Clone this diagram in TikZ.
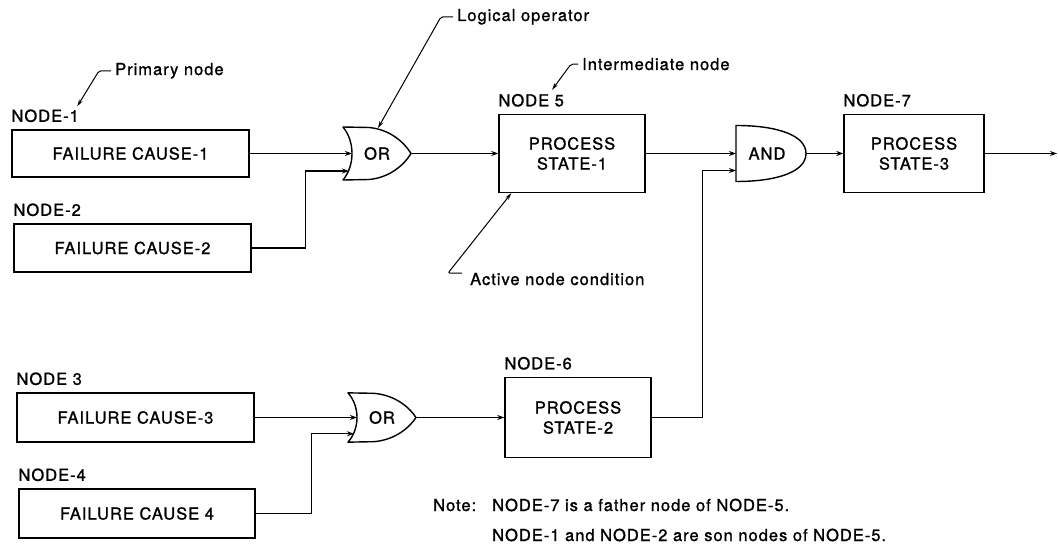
\documentclass[tikz,border=0pt]{standalone}
\usepackage{fontspec}
\setmainfont{TeX Gyre Heros}[LetterSpace=6, FakeBold=1.2]
\usetikzlibrary{arrows.meta}

\tikzset{
  every node/.style={font=\fontsize{16.5}{20}\selectfont},
  box/.style={draw, line width=1.4pt, inner sep=0pt, align=center},
  lbl/.style={anchor=south west, inner sep=0pt},
  txt/.style={anchor=base west, inner sep=0pt},
  wire/.style={line width=1.2pt},
  feed/.style={wire, -{Stealth[length=7pt,width=5pt]}},
  lead/.style={line width=1pt, rounded corners=2pt, -{Stealth[length=7pt,width=4pt]}},
  gate/.style={draw, line width=1.4pt, line join=round},
  pics/orgate/.style={code={
    \draw[gate] (0,-26.5) -- (26,-26) .. controls (48,-24) and (62,-10) .. (68,0)
      .. controls (62,10) and (48,24) .. (26,26) -- (0,26.5)
      .. controls (12,12) and (12,-12) .. (0,-26.5) -- cycle;
    \coordinate (-a) at (9,0);
    \coordinate (-b) at (6,17.5);
    \coordinate (-o) at (68,0);
    \coordinate (-top) at (35,-25.5);
    \node (-t) at (34,0) {OR};
  }},
  pics/andgate/.style={code={
    \draw[gate] (0,-28) .. controls (42,-28) and (70,-18) .. (70,0)
      .. controls (70,18) and (42,28) .. (0,28) -- cycle;
    \coordinate (-a) at (0,0);
    \coordinate (-b) at (0,17);
    \coordinate (-o) at (70,0);
    \node (-t) at (31,0) {AND};
  }},
}

\begin{document}
\begin{tikzpicture}[x=1pt, y=-1pt]
\useasboundingbox (0,0) rectangle (1058,551);

% failure causes (primary nodes)
\node[box, minimum width=237pt, minimum height=47pt] (fc1) at (130.5,153.5) {FAILURE CAUSE-1};
\node[box, minimum width=237pt, minimum height=48pt] (fc2) at (132.5,248) {FAILURE CAUSE-2};
\node[box, minimum width=237pt, minimum height=49pt] (fc3) at (135.5,417.5) {FAILURE CAUSE-3};
\node[box, minimum width=236pt, minimum height=49pt] (fc4) at (137,513.5) {FAILURE CAUSE 4};

\node[lbl] (n1) at ([yshift=7pt]fc1.north west) {NODE-1};
\node[lbl] (n2) at ([yshift=7pt]fc2.north west) {NODE-2};
\node[lbl] (n3) at ([yshift=7pt]fc3.north west) {NODE 3};
\node[lbl] (n4) at ([yshift=7pt]fc4.north west) {NODE-4};

% process states
\node[box, minimum width=146pt, minimum height=78pt] (ps1) at (572,153.5) {PROCESS\\STATE-1};
\node[box, minimum width=146pt, minimum height=80pt] (ps2) at (578,417.5) {PROCESS\\STATE-2};
\node[box, minimum width=140pt, minimum height=78pt] (ps3) at (914,153.5) {PROCESS\\STATE-3};

\node[lbl] (n5) at ([yshift=7pt]ps1.north west) {NODE 5};
\node[lbl] (n6) at ([yshift=7pt]ps2.north west) {NODE-6};
\node[lbl] (n7) at ([yshift=7pt]ps3.north west) {NODE-7};

% logical operators
\pic (or1) at (343,153.5) {orgate};
\pic[yscale=0.93] (or2) at (348,417.5) {orgate};
\pic (and) at (736,153.5) {andgate};

\coordinate (out) at (1057,153.5);

% connectors
\draw[feed] (fc1.east) -- (or1-a);
\draw[feed] (fc2.east) -- ++(54,0) |- (or1-b);
\draw[feed] (or1-o) -- (ps1.west);
\draw[feed] (ps1.east) -- (and-a);
\draw[feed] (ps2.east) -- ++(51,0) |- (and-b);
\draw[feed] (and-o) -- (ps3.west);
\draw[feed] (ps3.east) -- (out);
\draw[feed] (fc3.east) -- (or2-a);
\draw[feed] (fc4.east) -- ++(56,0) |- (or2-b);
\draw[feed] (or2-o) -- (ps2.west);

% annotations
\node[txt] (pn) at (115,75) {Primary node};
\draw[lead] ([xshift=-4pt]pn.west) -- ++(-12,0) -- ([xshift=66pt,yshift=3pt]n1.north west);

\node[txt] (lo) at (457,21) {Logical operator};
\draw[lead] ([xshift=-4pt]lo.west) -- ++(-12,0) -- (or1-top);

\node[txt] (im) at (582,70) {Intermediate node};
\draw[lead] ([xshift=-4pt]im.west) -- ++(-7,0) -- ([xshift=-12pt,yshift=4pt]n5.north east);

\node[txt] (ac) at (470,285) {Active node condition};
\draw[lead] ([shift={(-8pt,6pt)}]ac.west) -- ++(-14,0) -- ([xshift=13pt]ps1.south west);

% note
\node[txt] (nt) at (433,511) {Note:};
\node[txt] (nt1) at (492,511) {NODE-7 is a father node of NODE-5.};
\node[txt] (nt2) at (492,541) {NODE-1 and NODE-2 are son nodes of NODE-5.};
\end{tikzpicture}
\end{document}
